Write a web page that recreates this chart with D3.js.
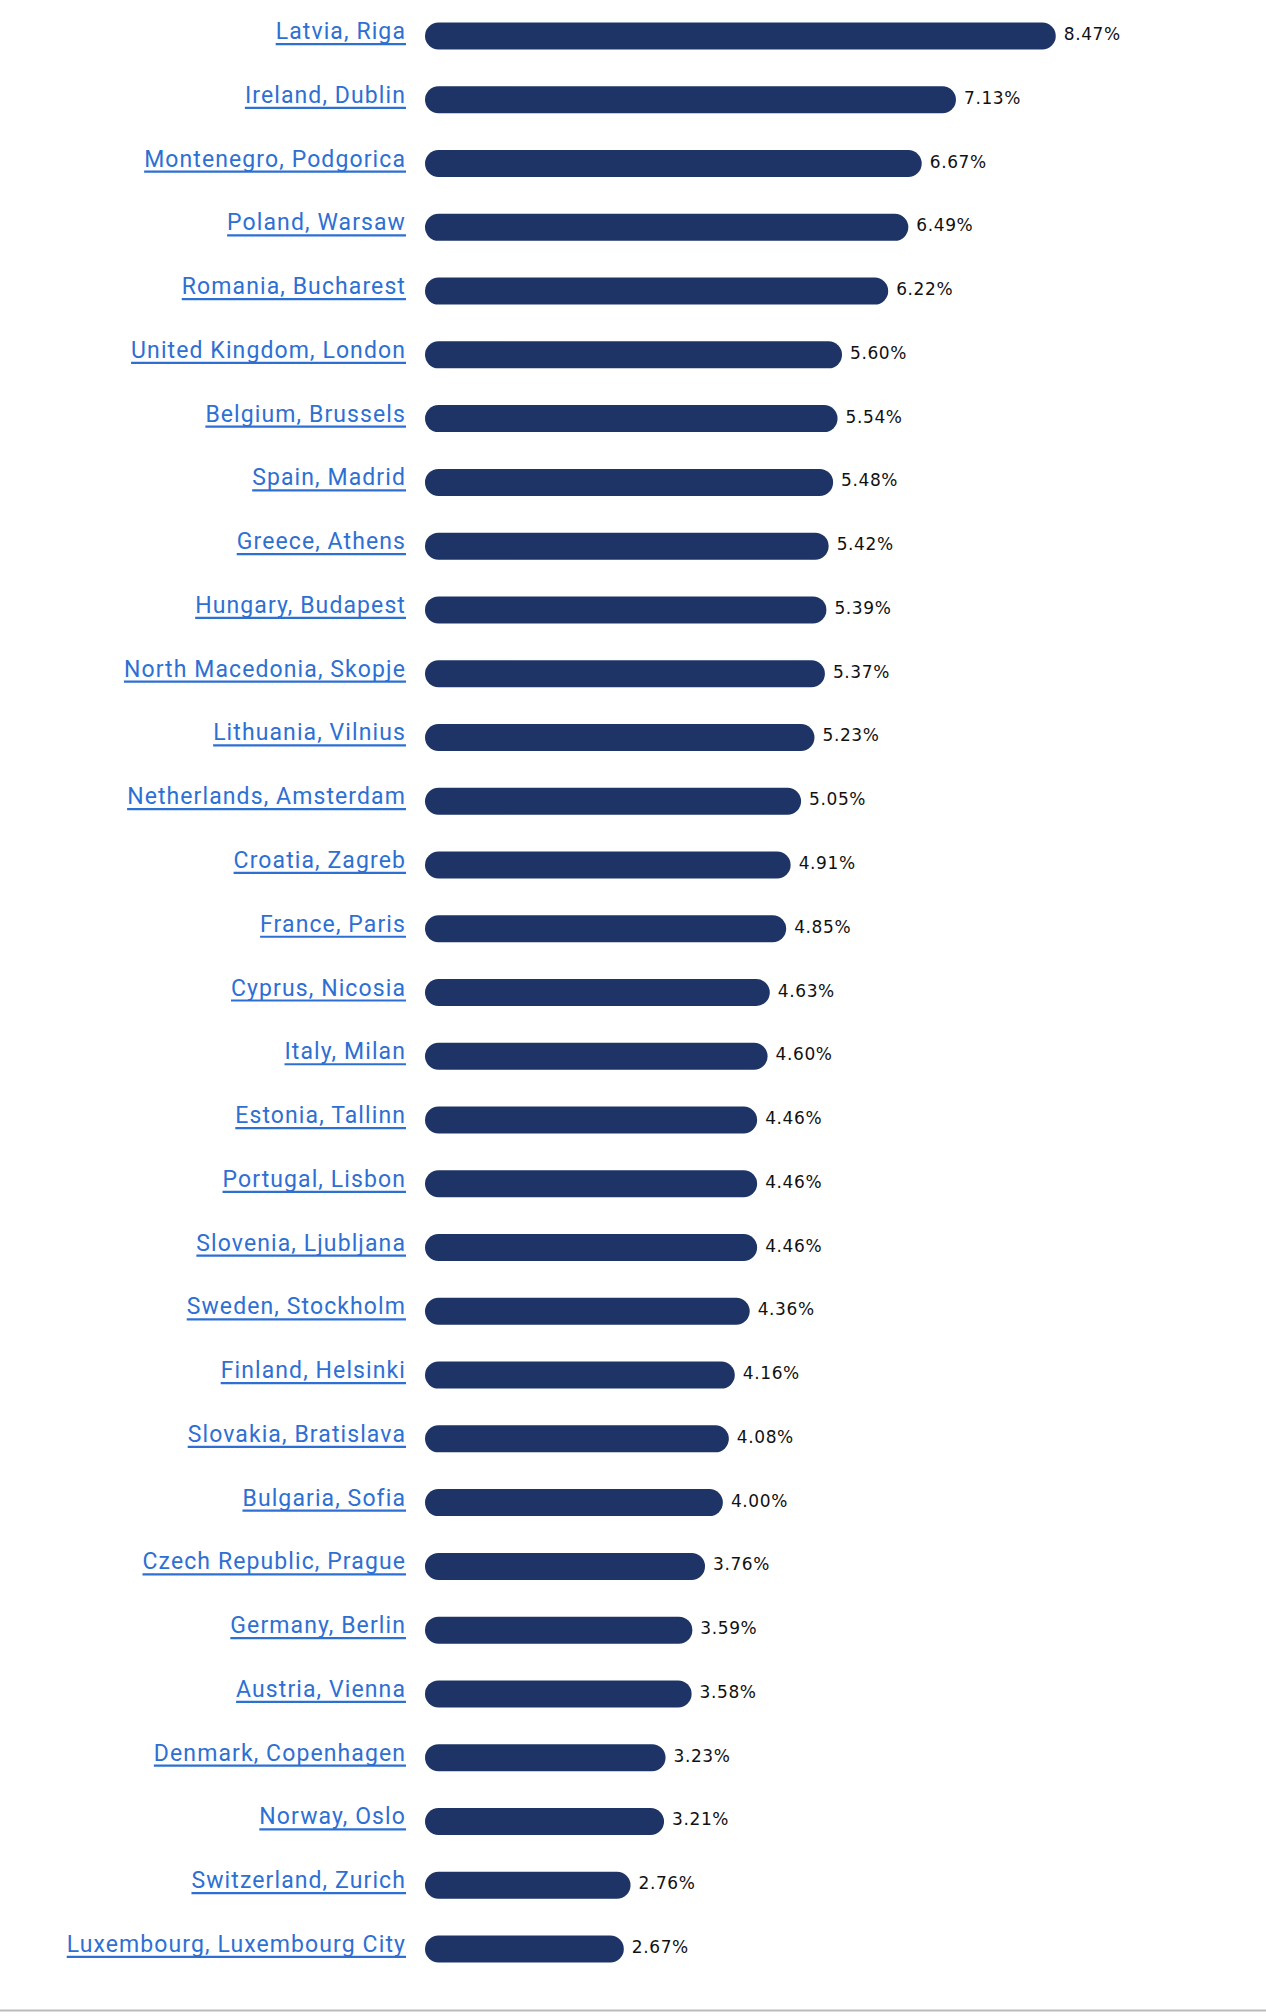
<!DOCTYPE html>
<html>
<head>
<meta charset="utf-8">
<script src="https://cdn.jsdelivr.net/npm/d3@7"></script>
<style>
  body { margin: 0; background: #fff; }
  svg { display: block; }
</style>
</head>
<body>
<div id="chart"></div>
<script>
// cities, top to bottom
const cities = [
  "Latvia, Riga", "Ireland, Dublin", "Montenegro, Podgorica", "Poland, Warsaw",
  "Romania, Bucharest", "United Kingdom, London", "Belgium, Brussels", "Spain, Madrid",
  "Greece, Athens", "Hungary, Budapest", "North Macedonia, Skopje", "Lithuania, Vilnius",
  "Netherlands, Amsterdam", "Croatia, Zagreb", "France, Paris", "Cyprus, Nicosia",
  "Italy, Milan", "Estonia, Tallinn", "Portugal, Lisbon", "Slovenia, Ljubljana",
  "Sweden, Stockholm", "Finland, Helsinki", "Slovakia, Bratislava", "Bulgaria, Sofia",
  "Czech Republic, Prague", "Germany, Berlin", "Austria, Vienna", "Denmark, Copenhagen",
  "Norway, Oslo", "Switzerland, Zurich", "Luxembourg, Luxembourg City"
];

// percent values
const rates = [
  8.47, 7.13, 6.67, 6.49,
  6.22, 5.60, 5.54, 5.48,
  5.42, 5.39, 5.37, 5.23,
  5.05, 4.91, 4.85, 4.63,
  4.60, 4.46, 4.46, 4.46,
  4.36, 4.16, 4.08, 4.00,
  3.76, 3.59, 3.58, 3.23,
  3.21, 2.76, 2.67
];

const data = cities.map((c, i) => ({ city: c, value: rates[i] }));

const width = 1266;
const height = 2016;
const barLeft = 425;
const barH = 27;

const svg = d3.select("#chart").append("svg")
    .attr("width", width)
    .attr("height", height);

svg.append("rect")
    .attr("width", width)
    .attr("height", height)
    .attr("fill", "#fff");

const x = d3.scaleLinear()
    .domain([0, 8.5])
    .range([0, 633]);

const y = d3.scaleBand()
    .domain(cities)
    .range([4, 1981])
    .paddingInner(0.575)
    .paddingOuter(0.29);

const row = svg.append("g")
    .selectAll("g")
    .data(data)
    .join("g")
    .attr("transform", d => `translate(0,${y(d.city) + y.bandwidth() / 2})`);

// bars with round ends
row.append("rect")
    .attr("x", barLeft)
    .attr("y", -barH / 2)
    .attr("width", d => x(d.value))
    .attr("height", barH)
    .attr("rx", barH / 2)
    .attr("fill", "#1e3466");

// city labels (link style)
const labels = row.append("text")
    .attr("x", 406)
    .attr("y", 3)
    .attr("text-anchor", "end")
    .attr("font-family", "Roboto, 'Liberation Sans', sans-serif")
    .attr("font-size", 23)
    .attr("letter-spacing", 1.1)
    .attr("fill", "#2e6fd3")
    .text(d => d.city);

labels.each(function () {
    const w = this.getComputedTextLength();
    d3.select(this.parentNode).append("line")
        .attr("x1", 406 - w)
        .attr("x2", 406)
        .attr("y1", 8)
        .attr("y2", 8)
        .attr("stroke", "#2e6fd3")
        .attr("stroke-width", 2.2);
});

// value labels
row.append("text")
    .attr("x", d => barLeft + x(d.value) + 8)
    .attr("y", 4)
    .attr("font-family", "'DejaVu Sans', sans-serif")
    .attr("font-size", 17)
    .attr("letter-spacing", 0.6)
    .attr("fill", "#111")
    .text(d => d3.format(".2f")(d.value) + "%");

// bottom rule
svg.append("line")
    .attr("x1", 0)
    .attr("x2", width)
    .attr("y1", 2010.5)
    .attr("y2", 2010.5)
    .attr("stroke", "#bbb")
    .attr("stroke-width", 2);
</script>
</body>
</html>
